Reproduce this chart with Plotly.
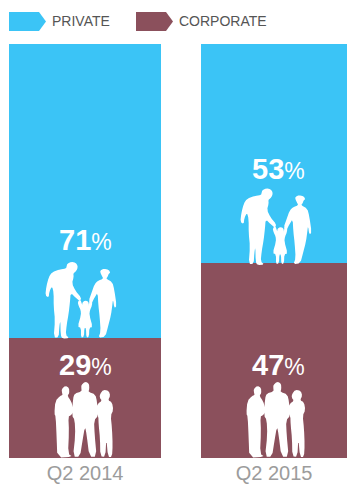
import plotly.graph_objects as go

# Chart values
quarters = ["Q2 2014", "Q2 2015"]
corporate = [29, 47]
private = [71, 53]
bar_widths = [0.804, 0.772]

BLUE = "#3BC4F6"
MAROON = "#8B505C"
W, H = 347, 484
TOP, BOTTOM = 44, 458

# Silhouette outlines in a local drawing grid (3 grid units = 1 px)
man = [(112,131),(124,125),(137,128),(143,137),(142,147),(136,156),(130,160),(131,172),(126,190),(136,212),(154,233),(150,244),(138,234),(122,218),(120,245),(116,280),(110,315),(107,345),(118,354),(97,356),(92,345),(91,300),(88,320),(86,352),(71,353),(75,300),(71,260),(71,218),(66,198),(58,215),(56,233),(46,226),(49,200),(56,172),(66,157),(90,148),(108,146),(110,138)]
child = [(143,246),(151,238),(157,256),(157,248),(165,241),(175,245),(177,255),(176,259),(179,239),(187,240),(186,257),(180,270),(178,285),(188,321),(178,323),(177,350),(169,353),(168,324),(163,324),(162,350),(153,353),(153,323),(143,320),(153,285),(152,270),(146,258)]
woman = [(211,151),(222,146),(236,149),(241,158),(236,161),(233,170),(228,176),(247,186),(253,210),(260,258),(253,265),(249,238),(247,255),(243,285),(234,320),(226,350),(205,353),(212,335),(209,290),(205,255),(203,218),(194,232),(185,250),(176,243),(184,220),(194,192),(204,182),(220,176),(216,168),(211,158)]
office_left = [(95,132),(106,122),(117,128),(118,145),(112,152),(123,168),(130,190),(133,197),(122,212),(115,214),(117,260),(114,326),(128,335),(82,338),(80,280),(77,214),(73,207),(76,168),(90,153),(98,150),(96,143)]
office_mid = [(154,120),(165,110),(177,115),(178,132),(175,141),(196,148),(201,170),(205,212),(192,226),(194,270),(200,335),(178,335),(170,270),(165,243),(157,290),(150,335),(129,335),(136,270),(134,224),(126,212),(129,160),(134,146),(155,139),(154,130)]
office_right = [(210,147),(220,134),(236,137),(241,152),(234,166),(246,172),(250,195),(242,212),(246,250),(248,300),(246,336),(234,336),(229,280),(226,336),(211,334),(210,280),(206,240),(205,212),(195,202),(203,176),(216,167),(209,158)]


def rounded(points, passes=1):
    # Chaikin corner cutting keeps the outlines soft
    for _ in range(passes):
        out = []
        for i, (x0, y0) in enumerate(points):
            x1, y1 = points[(i + 1) % len(points)]
            out.append((0.75 * x0 + 0.25 * x1, 0.75 * y0 + 0.25 * y1))
            out.append((0.25 * x0 + 0.75 * x1, 0.25 * y0 + 0.75 * y1))
        points = out
    return points


def px_path(points):
    coords = [(x / W, (BOTTOM - y) / (BOTTOM - TOP)) for x, y in points]
    return "M " + " L ".join(f"{x:.5f},{y:.5f}" for x, y in coords) + " Z"


def figure_shape(outline, ox, oy):
    pts = [(ox + x / 3, oy + y / 3) for x, y in rounded(outline)]
    return dict(type="path", xref="paper", yref="paper", path=px_path(pts),
                fillcolor="white", line=dict(width=0), layer="above")


def pentagon(x0, color):
    pts = [(x0, 12), (x0 + 30, 12), (x0 + 37, 21.5), (x0 + 30, 31), (x0, 31)]
    return dict(type="path", xref="paper", yref="paper", path=px_path(pts),
                fillcolor=color, line=dict(width=0))


fig = go.Figure()
fig.add_bar(name="CORPORATE", x=quarters, y=corporate, width=bar_widths,
            marker=dict(color=MAROON, line=dict(width=0)))
fig.add_bar(name="PRIVATE", x=quarters, y=private, width=bar_widths,
            marker=dict(color=BLUE, line=dict(width=0)))

shapes = [pentagon(9, BLUE), pentagon(136, MAROON)]
for ox, oy in [(30, 220), (225, 146.5)]:
    shapes += [figure_shape(o, ox, oy) for o in (man, child, woman)]
for ox, oy in [(30, 345), (222, 345)]:
    shapes += [figure_shape(o, ox, oy) for o in (office_left, office_mid, office_right)]


def pct(value):
    return f"<b>{value}</b><span style='font-size:23px'>%</span>"


def pct_label(px, py, value):
    return dict(xref="paper", yref="paper", x=px / W, y=(BOTTOM - py) / (BOTTOM - TOP),
                text=pct(value), showarrow=False, xanchor="center", yanchor="middle",
                font=dict(family="Liberation Sans", size=29, color="white"))


def legend_label(px, text):
    return dict(xref="paper", yref="paper", x=px / W, y=(BOTTOM - 21.5) / (BOTTOM - TOP),
                text=text, showarrow=False, xanchor="left", yanchor="middle",
                font=dict(family="Liberation Sans", size=14, color="#555555"))


annotations = [
    pct_label(85, 240, private[0]),
    pct_label(85, 365, corporate[0]),
    pct_label(278, 169, private[1]),
    pct_label(278, 365, corporate[1]),
    legend_label(50, "PRIVATE"),
    legend_label(177, "CORPORATE"),
]

fig.update_layout(
    barmode="stack",
    width=W, height=H,
    margin=dict(l=0, r=0, t=TOP, b=H - BOTTOM, pad=0, autoexpand=False),
    paper_bgcolor="white", plot_bgcolor="white",
    showlegend=False,
    shapes=shapes,
    annotations=annotations,
    xaxis=dict(range=[-0.45, 1.386], showgrid=False, zeroline=False, showline=False,
               automargin=False, ticks="", ticklabelstandoff=1,
               tickfont=dict(family="Liberation Sans", size=20, color="#9C9C9C")),
    yaxis=dict(range=[0, 100], visible=False),
)

fig.write_html("out.html", config={"displayModeBar": False})
